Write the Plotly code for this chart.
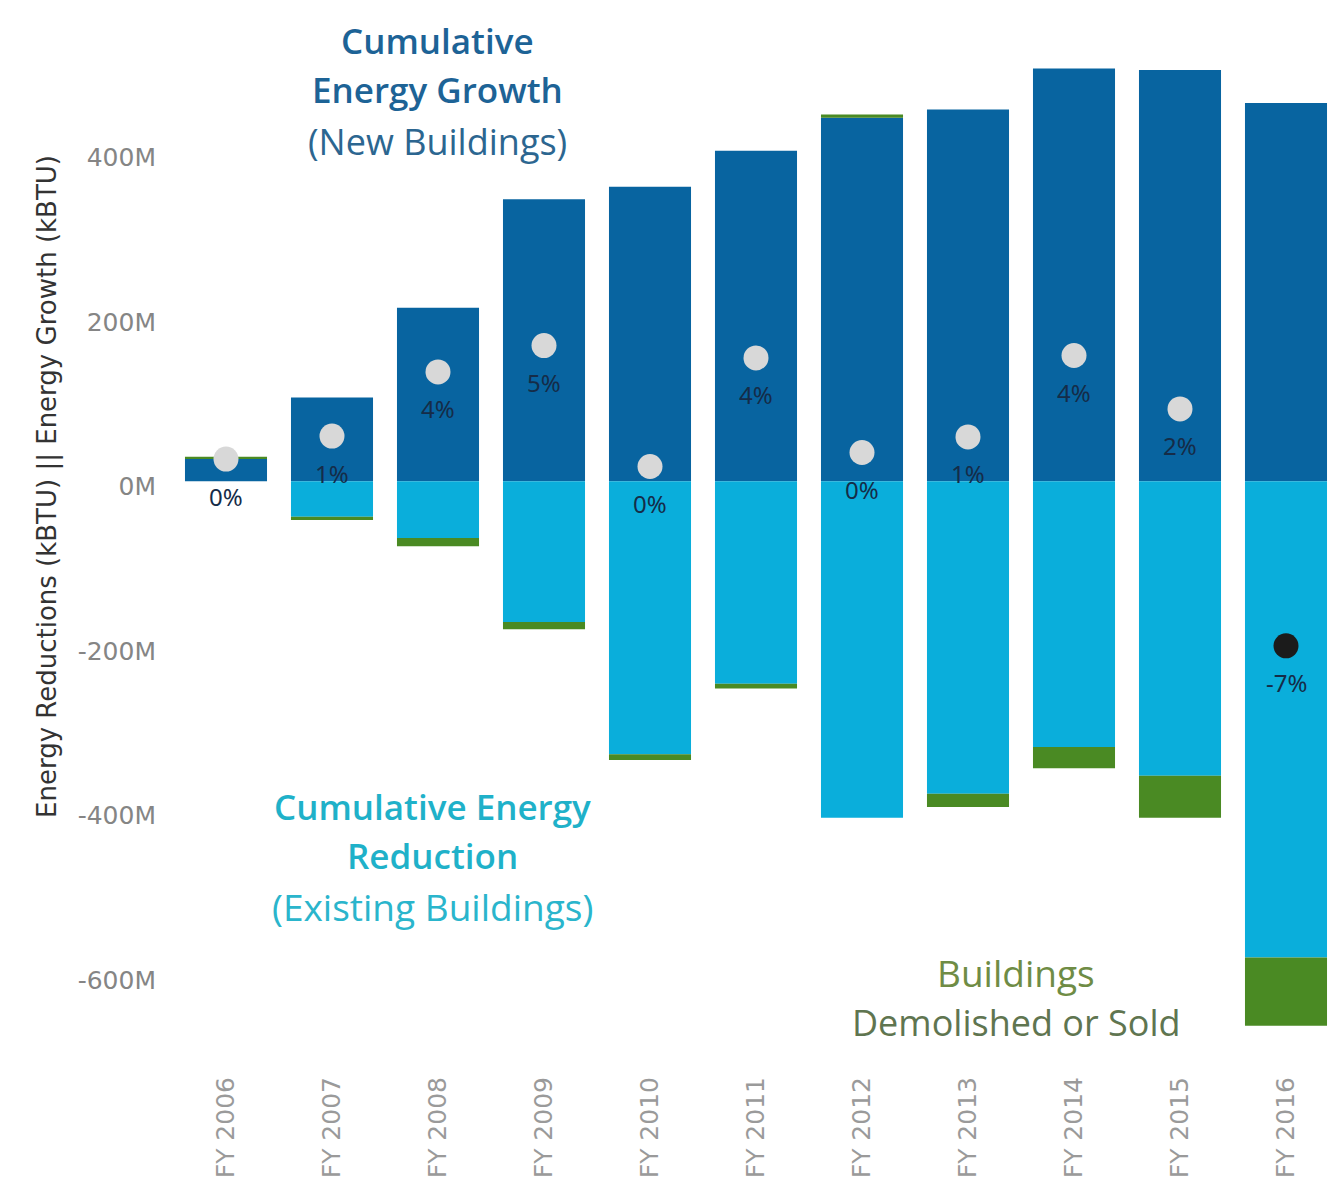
import plotly.graph_objects as go

years = ["FY 2006", "FY 2007", "FY 2008", "FY 2009", "FY 2010", "FY 2011",
         "FY 2012", "FY 2013", "FY 2014", "FY 2015", "FY 2016"]

# values in millions of kBTU
growth = [27, 102, 211, 343, 358, 402, 442, 452, 502, 500, 460]
reduction = [0, -43, -69, -171, -332, -246, -409, -380, -323, -358, -579]
demolished = [3, -4, -10, -9, -7, -6, 4, -16, -26, -51, -83]
net = [27, 55, 133, 165, 18, 150, 35, 54, 153, 88, -200]
net_pct = ["0%", "1%", "4%", "5%", "0%", "4%", "0%", "1%", "4%", "2%", "-7%"]

tick_vals = [-600, -400, -200, 0, 200, 400]
tick_text = ["-600M", "-400M", "-200M", "0M", "200M", "400M"]

DARK = "#0864a0"
LIGHT = "#0aaedb"
GREEN = "#4a8a23"

# the page puts the figure 8px in from the top-left corner, so size it to fit
OFF = 8
W, H = 1342 - OFF, 1194 - OFF
L, R, T, B = 173 - OFF, 3, 38 - OFF, 123

# screen pixel -> paper coordinates, for the free text
def px(x):
    return (x - OFF - L) / (W - L - R)
def py(y):
    return (OFF + H - B - y) / (H - B - T)

fig = go.Figure()
fig.add_trace(go.Bar(x=years, y=growth, marker_color=DARK, marker_line_width=0))
fig.add_trace(go.Bar(x=years, y=reduction, marker_color=LIGHT, marker_line_width=0))
fig.add_trace(go.Bar(x=years, y=demolished, marker_color=GREEN, marker_line_width=0))

dot_colors = ["#1b1b1b" if v < 0 else "#d8d8d8" for v in net]
fig.add_trace(go.Scatter(
    x=years, y=net, mode="markers",
    marker=dict(size=25, color=dot_colors, line=dict(width=0)),
))

for yr, v, t in zip(years, net, net_pct):
    fig.add_annotation(x=yr, y=v, text=t, showarrow=False, yshift=-37,
                       font=dict(family="Noto Sans", size=24, color="#152c48"))

# y axis title
fig.add_annotation(xref="paper", yref="paper", x=px(47), y=py(487),
                   xanchor="center", yanchor="middle",
                   text="Energy Reductions (kBTU) || Energy Growth (kBTU)",
                   textangle=-90, showarrow=False,
                   font=dict(family="DejaVu Sans", size=26, color="#333333"))

labels = [
    ("Cumulative", 437, 41, "#1d6396", 600, 35),
    ("Energy Growth", 437, 90, "#1d6396", 600, 35),
    ("(New Buildings)", 437, 141, "#2c6690", 400, 36),
    ("Cumulative Energy", 432, 806, "#1fb1c9", 600, 35),
    ("Reduction", 432, 855, "#1fb1c9", 600, 35),
    ("(Existing Buildings)", 432, 906, "#2ab5cc", 400, 37),
    ("Buildings", 1016, 972, "#6f8c45", 400, 37),
    ("Demolished or Sold", 1016, 1022, "#5f7550", 400, 36),
]
for txt, x, y, col, wt, sz in labels:
    fig.add_annotation(xref="paper", yref="paper", x=px(x), y=py(y), text=txt,
                       showarrow=False, xanchor="center", yanchor="middle",
                       font=dict(family="Open Sans", size=sz, color=col, weight=wt))

fig.update_layout(
    width=W, height=H,
    barmode="relative", bargap=0.226,
    showlegend=False,
    paper_bgcolor="white", plot_bgcolor="white",
    margin=dict(l=L, r=R, t=T, b=B),
    xaxis=dict(range=[-0.5, 10.5], tickangle=-90, showgrid=False,
               showline=False, ticks="",
               tickfont=dict(family="DejaVu Sans", size=25, color="#9a9a9a")),
    yaxis=dict(range=[-717, 539], tickvals=tick_vals, ticktext=tick_text,
               showgrid=False, zeroline=False, showline=False, ticks="",
               ticklabelstandoff=16, ticklabelshift=5,
               tickfont=dict(family="DejaVu Sans", size=25, color="#858585")),
)

fig.write_html("out.html")
